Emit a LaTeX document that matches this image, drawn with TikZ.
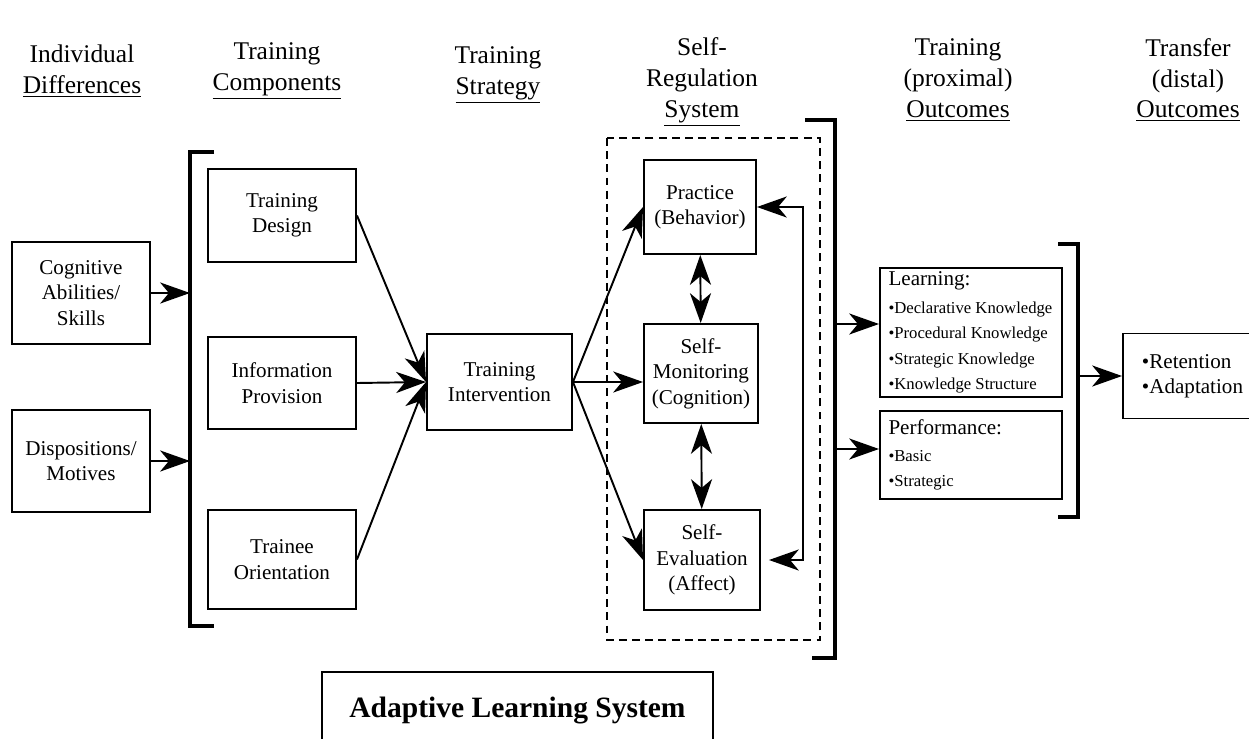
\documentclass[tikz,border=0pt]{standalone}
\usepackage{fontspec}
\setmainfont{Liberation Serif}
\usetikzlibrary{arrows.meta}
\tikzset{>={Stealth[length=17pt,width=12pt,inset=5pt]}}
\tikzset{
  box/.style={draw,line width=1.1pt,align=center,inner sep=2pt,font=\fontsize{12}{14.5}\selectfont},
  sz/.style 2 args={minimum width=#1*0.02cm,minimum height=#2*0.02cm},
  head/.style={align=center,font=\fontsize{14.5}{17.5}\selectfont},
  arr/.style={->,line width=1.1pt},
  bracket/.style={line width=2.6pt},
  srsframe/.style={line width=1.2pt,dash pattern=on 4.5pt off 3pt},
}
\newcommand{\itemsz}{\fontsize{9.5}{10.8}\selectfont}
\newcommand{\listhead}[1]{\makebox[3.3cm][l]{#1}}
\begin{document}
\begin{tikzpicture}[x=0.02cm,y=-0.02cm]
  \useasboundingbox (0,0) rectangle (1249,738);
  % column heads
  \node[head] (hdiff) at (82,71) {Individual\\\underline{Differences}};
  \node[head] (hcomp) at (277,71) {Training\\\underline{Components}};
  \node[head] (hstrat) at (498,75) {Training\\\underline{Strategy}};
  \node[head] (hself) at (702,82) {Self-\\Regulation\\\underline{System}};
  \node[head] (hprox) at (958,80) {Training\\(proximal)\\\underline{Outcomes}};
  \node[head] (hdist) at (1188,80) {Transfer\\(distal)\\\underline{Outcomes}};
  % boxes
  \node[box,sz={138}{102}] (cog) at (81,293) {Cognitive\\Abilities/\\Skills};
  \node[box,sz={138}{102}] (disp) at (81,461) {Dispositions/\\Motives};
  \node[box,sz={148}{93}] (design) at (282,215.5) {Training\\Design};
  \node[box,sz={148}{92}] (info) at (282,383) {Information\\Provision};
  \node[box,sz={148}{99}] (orient) at (282,559.5) {Trainee\\Orientation};
  \node[box,sz={145}{96}] (interv) at (499.5,382) {Training\\Intervention};
  \node[box,sz={112}{94}] (practice) at (700,207) {Practice\\(Behavior)};
  \node[box,sz={114}{99}] (monitor) at (701,373.5) {Self-\\Monitoring\\(Cognition)};
  \node[box,sz={116}{100}] (evalu) at (702,560) {Self-\\Evaluation\\(Affect)};
  \node[box,sz={182}{127},align=left] (learn) at (971,332.5)
    {\listhead{Learning:}\\[1pt]\itemsz •Declarative Knowledge\\\itemsz •Procedural Knowledge\\
     \itemsz •Strategic Knowledge\\\itemsz •Knowledge Structure};
  \node[box,sz={182}{88},align=left] (perf) at (971,455)
    {\listhead{Performance:}\\[1pt]\itemsz •Basic\\\itemsz •Strategic};
  \node[box,sz={139}{85},align=left,font=\fontsize{12}{14}\selectfont] (transfer) at (1192.5,376)
    {•Retention\\•Adaptation};
  \node[box,sz={391}{78},font=\fontsize{16.8}{19}\selectfont\bfseries] (als) at (517.5,711)
    {Adaptive Learning System};
  % brackets and frame
  \draw[bracket] (214,152) -- (190,152) -- (190,626) -- (214,626);
  \draw[bracket] (805,120) -- (835,120) -- (835,658) -- (812,658);
  \draw[bracket] (1058,244) -- (1078,244) -- (1078,517) -- (1058,517);
  \draw[srsframe] (607,138) rectangle (820,640);
  \coordinate (lb1) at (190,293);
  \coordinate (lb2) at (190,461);
  \coordinate (rb1) at (835,324);
  \coordinate (rb2) at (835,449);
  \coordinate (ob) at (1078,376);
  \coordinate (fb1) at (803,207);
  \coordinate (fb2) at (803,560);
  % connectors
  \draw[arr] (cog) -- (lb1);
  \draw[arr] (disp) -- (lb2);
  \draw[arr] (design.east) -- (interv.west);
  \draw[arr] (info.east) -- (interv.west);
  \draw[arr] (orient.east) -- (interv.west);
  \draw[arr] (interv.east) -- (practice.west);
  \draw[arr] (interv.east) -- (interv.east -| monitor.west);
  \draw[arr] (interv.east) -- (evalu.west);
  \draw[<->,line width=1.1pt] (practice) -- (monitor);
  \draw[<->,line width=1.1pt] (monitor) -- (evalu);
  \draw[arr] (fb2) -- (fb1) -- (practice.east);
  \draw[arr,shorten >=0.16cm] (fb1) -- (fb2) -- (evalu.east);
  \draw[arr] (rb1) -- (rb1 -| learn.west);
  \draw[arr] (rb2) -- (rb2 -| perf.west);
  \draw[arr] (ob) -- (transfer);
\end{tikzpicture}
\end{document}
